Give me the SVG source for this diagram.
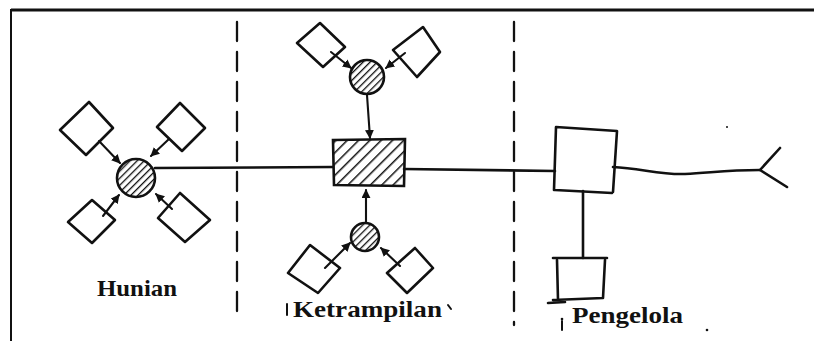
<svg xmlns="http://www.w3.org/2000/svg" width="814" height="341" viewBox="0 0 814 341">
  <style>
    .ink { fill: none; stroke: #111; stroke-width: 2.6; stroke-linecap: round; stroke-linejoin: round; }
    .thin { fill: none; stroke: #111; stroke-width: 2; stroke-linecap: round; stroke-linejoin: round; }
    .arrow { fill: none; stroke: #111; stroke-width: 2.1; stroke-linecap: round; marker-end: url(#head); }
    .hub { fill: url(#hatch); stroke: #111; stroke-width: 2.6; }
    .divider { fill: none; stroke: #111; stroke-width: 2.3; stroke-dasharray: 19 11; stroke-linecap: round; }
    .label { font-family: "Liberation Serif", "DejaVu Serif", serif; font-weight: bold; font-size: 24px; fill: #111; }
  </style>
  <defs>
    <pattern id="hatch" width="5" height="5" patternUnits="userSpaceOnUse" patternTransform="rotate(45)">
      <rect width="5" height="5" fill="#fff"/>
      <line x1="0" y1="0" x2="0" y2="5" stroke="#111" stroke-width="2.6"/>
    </pattern>
    <pattern id="hatchWide" width="8" height="8" patternUnits="userSpaceOnUse" patternTransform="rotate(45)">
      <rect width="8" height="8" fill="#fff"/>
      <line x1="0" y1="0" x2="0" y2="8" stroke="#111" stroke-width="3"/>
    </pattern>
    <marker id="head" viewBox="0 0 10 10" refX="9" refY="5" markerWidth="9" markerHeight="9" markerUnits="userSpaceOnUse" orient="auto">
      <path d="M0,0 L10,5 L0,10 z" fill="#111"/>
    </marker>
  </defs>

  <rect width="814" height="341" fill="#fff"/>

  <!-- frame -->
  <g id="frame">
    <line x1="11" y1="10" x2="814" y2="10" stroke="#111" stroke-width="3"/>
    <line x1="11" y1="9" x2="11" y2="341" stroke="#111" stroke-width="2"/>
  </g>

  <!-- zone dividers -->
  <g id="dividers">
    <line class="divider" x1="237" y1="22" x2="237" y2="318"/>
    <line class="divider" x1="514" y1="22" x2="514" y2="325"/>
  </g>

  <!-- Hunian cluster -->
  <g id="hunian">
    <circle class="hub" cx="136" cy="178" r="19"/>
    <polygon class="ink" points="89,102 113,128 86,155 60,130"/>
    <polygon class="ink" points="180,103 205,128 182,151 157,127"/>
    <polygon class="ink" points="92,200 115,220 92,243 68,222"/>
    <polygon class="ink" points="180,193 210,220 185,242 158,218"/>
    <line class="arrow" x1="99" y1="141" x2="120" y2="163"/>
    <line class="arrow" x1="169" y1="139" x2="151" y2="156"/>
    <line class="arrow" x1="103" y1="216" x2="119" y2="195"/>
    <line class="arrow" x1="172" y1="209" x2="156" y2="194"/>
    <text class="label" x="97" y="296" textLength="80" lengthAdjust="spacingAndGlyphs">Hunian</text>
  </g>

  <!-- Ketrampilan cluster -->
  <g id="ketrampilan">
    <circle class="hub" cx="367" cy="77" r="17"/>
    <polygon class="ink" points="320,23 345,47 323,67 297,43"/>
    <polygon class="ink" points="423,27 440,52 417,77 393,50"/>
    <line class="arrow" x1="331" y1="52" x2="351" y2="68"/>
    <line class="arrow" x1="405" y1="53" x2="386" y2="68"/>
    <line class="arrow" x1="367" y1="95" x2="370" y2="138"/>
    <path class="hub" style="fill:url(#hatchWide)" d="M333,140 L405,139 L404,186 L334,185 Z"/>
    <circle class="hub" cx="365" cy="237" r="14"/>
    <polygon class="ink" points="310,245 340,268 318,293 288,273"/>
    <polygon class="ink" points="415,248 433,268 407,293 387,273"/>
    <line class="arrow" x1="325" y1="268" x2="350" y2="243"/>
    <line class="arrow" x1="400" y1="266" x2="381" y2="248"/>
    <line class="arrow" x1="366" y1="222" x2="366" y2="190"/>
    <line class="thin" x1="287" y1="304" x2="287" y2="315"/>
    <text class="label" x="293" y="317" textLength="149" lengthAdjust="spacingAndGlyphs">Ketrampilan</text>
    <line class="thin" x1="448" y1="305" x2="451" y2="309"/>
  </g>

  <!-- Pengelola cluster -->
  <g id="pengelola">
    <path class="ink" d="M556,127 L617,131 L613,192 M555,190 L612,193 M556,127 L554,190"/>
    <path class="ink" d="M583,191 L583,258"/>
    <path class="ink" d="M553,258 L607,258 M557,260 L558,300 M553,300 L603,298 M605,260 L603,298 M548,303 L565,302"/>
    <line class="thin" x1="562" y1="321" x2="562" y2="330"/>
    <circle cx="562" cy="319" r="1.3" fill="#111"/>
    <text class="label" x="572" y="323" textLength="111" lengthAdjust="spacingAndGlyphs">Pengelola</text>
    <circle cx="707" cy="330" r="1.3" fill="#111"/>
  </g>

  <!-- outgoing fork on the right -->
  <g id="exit">
    <path class="ink" d="M613,167 C640,168 660,175 685,174 C710,173 725,170 760,170"/>
    <path class="ink" d="M760,170 L780,148 M760,170 L787,187"/>
    <circle cx="727" cy="127" r="1" fill="#111"/>
  </g>

  <!-- connectors between zones -->
  <g id="connectors">
    <path class="ink" d="M155,168 L333,167"/>
    <path class="ink" d="M404,169 L555,171"/>
  </g>
</svg>
